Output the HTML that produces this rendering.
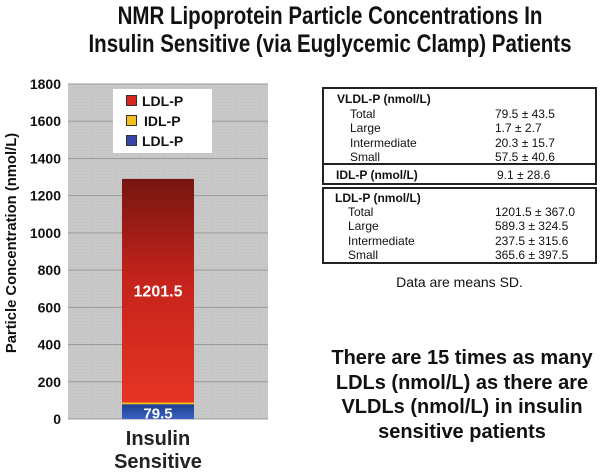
<!DOCTYPE html>
<html><head><meta charset="utf-8"><style>
body{margin:0;width:600px;height:472px;background:#fff;overflow:hidden;font-family:"Liberation Sans",sans-serif;position:relative}
.t{position:absolute;white-space:nowrap}
</style></head><body>
<div class="t" style="left:0;width:660px;top:2px;text-align:center;font-size:25px;font-weight:bold;line-height:28px;transform:scaleX(0.82);transform-origin:330px 0;color:#111">NMR Lipoprotein Particle Concentrations In<br>Insulin Sensitive (via Euglycemic Clamp) Patients</div>
<svg width="600" height="472" style="position:absolute;left:0;top:0">
<defs>
<pattern id="hatch" width="3" height="3" patternUnits="userSpaceOnUse"><rect width="3" height="3" fill="#c8c8c8"/><rect width="1" height="1" fill="#bdbdbd"/></pattern>
<linearGradient id="red" x1="0" y1="0" x2="0" y2="1"><stop offset="0" stop-color="#761611"/><stop offset="0.45" stop-color="#c4231b"/><stop offset="1" stop-color="#e63425"/></linearGradient>
<linearGradient id="blue" x1="0" y1="0" x2="0" y2="1"><stop offset="0" stop-color="#1e3f8e"/><stop offset="1" stop-color="#3a62c4"/></linearGradient>
</defs>
<g id="plot"></g>
</svg>
<div class="t" style="left:12px;top:243px;font-size:14.8px;font-weight:bold;transform:translate(-50%,-50%) rotate(-90deg);color:#111">Particle Concentration (nmol/L)</div>
<div class="t" style="left:108px;width:100px;top:428px;text-align:center;font-size:20px;font-weight:bold;line-height:23px;color:#222">Insulin<br>Sensitive</div>
<div style="position:absolute;left:113px;top:89px;width:99px;height:64px;background:#fff;font-size:14px;font-weight:bold;color:#111">
 <div style="position:absolute;left:13px;top:4px"><span style="display:inline-block;width:9px;height:9px;background:#d8271d;border:1px solid #333;margin-right:5px"></span>LDL-P</div>
 <div style="position:absolute;left:13px;top:24px"><span style="display:inline-block;width:9px;height:9px;background:#f0c020;border:1px solid #333;margin-right:7px"></span>IDL-P</div>
 <div style="position:absolute;left:13px;top:44px"><span style="display:inline-block;width:9px;height:9px;background:#3546a8;border:1px solid #333;margin-right:5px"></span>LDL-P</div>
</div>
<div style="position:absolute;left:322px;top:87px;width:275px;font-size:12px;color:#111;line-height:14.3px">
 <div style="border:2px solid #222;height:74px;padding:0;position:relative">
  <div class="t" style="left:13px;top:3px;font-weight:bold">VLDL-P (nmol/L)</div>
  <div class="t" style="left:26px;top:18px">Total<br>Large<br>Intermediate<br>Small</div>
  <div class="t" style="left:171px;top:18px">79.5 ± 43.5<br>1.7 ± 2.7<br>20.3 ± 15.7<br>57.5 ± 40.6</div>
 </div>
 <div style="border:2px solid #222;border-top:none;height:18px;position:relative;margin-top:0">
  <div class="t" style="left:12px;top:3px;font-weight:bold">IDL-P (nmol/L)</div>
  <div class="t" style="left:173px;top:3px">9.1 ± 28.6</div>
 </div>
 <div style="border:2px solid #222;margin-top:2px;height:73px;position:relative">
  <div class="t" style="left:11px;top:2px;font-weight:bold">LDL-P (nmol/L)</div>
  <div class="t" style="left:24px;top:16px">Total<br>Large<br>Intermediate<br>Small</div>
  <div class="t" style="left:171px;top:16px">1201.5 ± 367.0<br>589.3 ± 324.5<br>237.5 ± 315.6<br>365.6 ± 397.5</div>
 </div>
</div>
<div class="t" style="left:322px;width:275px;top:274px;text-align:center;font-size:14px;color:#111">Data are means SD.</div>
<div class="t" style="left:312px;width:300px;top:346px;text-align:center;font-size:20px;font-weight:bold;line-height:24.5px;color:#111">There are 15 times as many<br>LDLs (nmol/L) as there are<br>VLDLs (nmol/L) in insulin<br>sensitive patients</div>
<script>
const ticks=[0,200,400,600,800,1000,1200,1400,1600,1800];
const seriesNames=["VLDL-P","IDL-P","LDL-P"];
const seriesValues=[79.5,9.1,1201.5];
const labelValues=["79.5",null,"1201.5"];
const fills=["url(#blue)","#f2c21c","url(#red)"];
const X0=68,X1=268,Y0=419,Y1=84,MAX=1800;
const y=v=>Y0-(v/MAX)*(Y0-Y1);
const NS="http://www.w3.org/2000/svg";
const g=document.getElementById('plot');
function mk(t,a){const e=document.createElementNS(NS,t);for(const k in a)e.setAttribute(k,a[k]);g.appendChild(e);return e;}
const bg=mk('rect',{x:X0,y:Y1,width:X1-X0,height:Y0-Y1,fill:'url(#hatch)'});


ticks.forEach(t=>{
 const l=mk('line',{x1:X0,x2:X1,y1:y(t),y2:y(t),stroke:'#9a9a9a','stroke-width':1});
 
 
 const tx=mk('text',{x:61,y:y(t)+5,'text-anchor':'end','font-size':14,'font-weight':'bold',fill:'#111'});
 tx.textContent=t;
 
 
});
let acc=0;
seriesValues.forEach((v,i)=>{
 const r=mk('rect',{x:122,width:72,y:y(acc+v),height:y(acc)-y(acc+v),fill:fills[i]});
 
 
 if(labelValues[i]){
  const tx=mk('text',{x:158,y:(y(acc)+y(acc+v))/2+(i==0?7:6),'text-anchor':'middle','font-size':(i==0?15:16),'font-weight':'bold',fill:'#fff'});
  tx.textContent=labelValues[i];
  
  
 }
 acc+=v;
});
</script>
</body></html>
